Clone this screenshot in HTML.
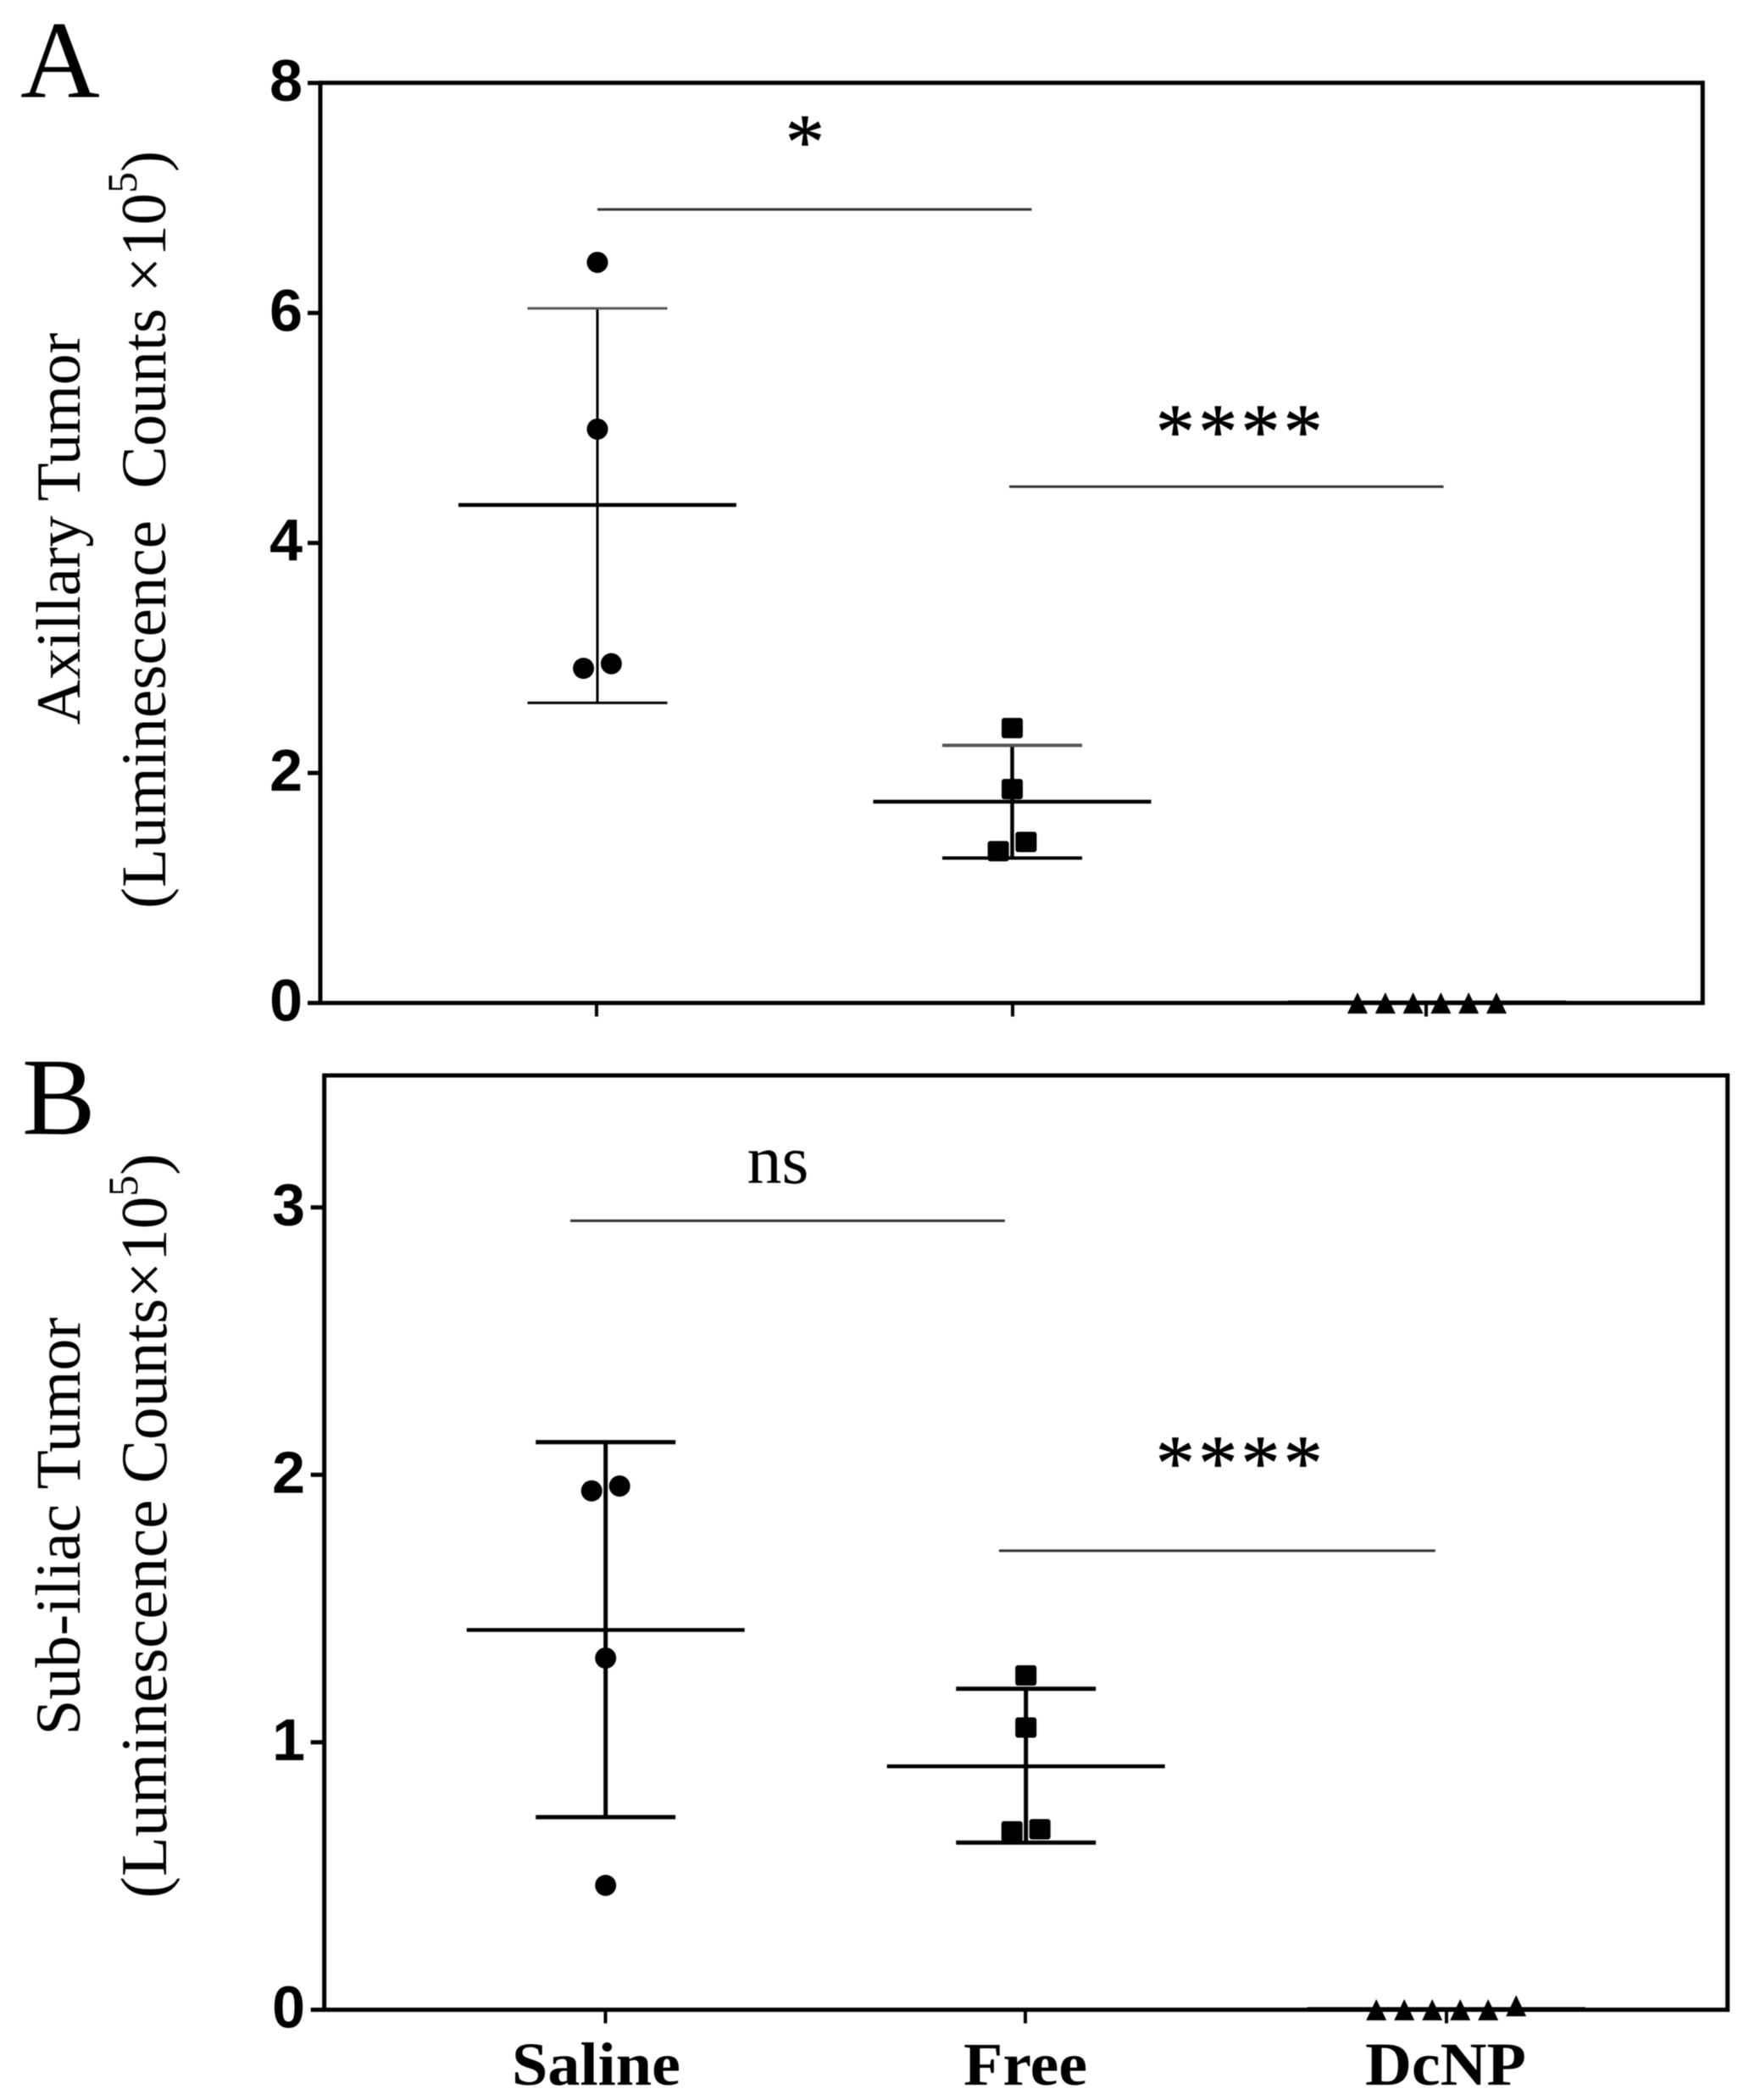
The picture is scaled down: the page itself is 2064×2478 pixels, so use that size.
<!DOCTYPE html>
<html lang="en">
<head>
<meta charset="utf-8">
<title>Axillary and sub-iliac tumor luminescence</title>
<style>
html,body{margin:0;padding:0;background:#fff;}
svg{display:block;filter:blur(0.5px);}
text{white-space:pre;}
.serif{font-family:"Liberation Serif",serif;fill:#000;}
.sans{font-family:"Liberation Sans",sans-serif;font-weight:700;fill:#000;}
</style>
</head>
<body>
<svg id="chart" xmlns="http://www.w3.org/2000/svg" width="2064" height="2478" viewBox="0 0 2064 2478">
  <rect x="0" y="0" width="2064" height="2478" fill="#fff"/>

  <text class="serif" x="24" y="114.5" font-size="130">A</text>
  <text class="serif" x="26" y="1338" font-size="130">B</text>

  <text class="serif" font-size="74" text-anchor="middle" transform="translate(94 624) rotate(-90)">Axillary Tumor</text>
  <text class="serif" font-size="75" text-anchor="middle" transform="translate(195 625) rotate(-90)">(Luminescence  Counts ×10<tspan font-size="50" dy="-34">5</tspan><tspan dy="34">)</tspan></text>

  <text class="serif" font-size="75.5" text-anchor="middle" transform="translate(94 1801) rotate(-90)">Sub-iliac Tumor</text>
  <text class="serif" font-size="77" text-anchor="middle" transform="translate(196 1800.5) rotate(-90)">(Luminescence Counts×10<tspan font-size="50" dy="-34">5</tspan><tspan dy="34">)</tspan></text>

  <g id="panel-a"></g>
  <g id="panel-b"></g>
</svg>

<script>
// Shared categories
var categories = ['Saline', 'Free', 'DcNP'];

// Beeswarm slots (in marker-widths from the category centre)
var aSalineSlots = [0, 0, -0.5, 0.5];
var bSalineSlots = [-0.5, 0.5, 0, 0];
var freeSlots = [0, 0, -0.5, 0.5];
var dcnpSlots = [-2.5, -1.5, -0.5, 0.5, 1.5, 2.5];

// Panel A values (×10^5)
var aTicks = [0, 2, 4, 6, 8];
var aSaline = [6.44, 4.99, 2.91, 2.95];
var aFree = [2.39, 1.86, 1.32, 1.40];
var aDcNP = [0, 0, 0, 0, 0, 0];
var aMeans = [4.33, 1.75, 0.01];
var aUpper = [6.04, 2.24, 0.01];
var aLower = [2.61, 1.26, 0.01];
var aSigLabels = ['*', '****'];
var aSigHeights = [6.9, 4.49];
var aSigFrom = [0, 0.993];
var aSigTo = [1.047, 2.04];

// Panel B values (×10^5)
var bTicks = [0, 1, 2, 3];
var bSaline = [1.94, 1.958, 1.315, 0.465];
var bFree = [1.25, 1.055, 0.667, 0.675];
var bDcNP = [0, 0, 0, 0, 0, 0.015];
var bMeans = [1.42, 0.91, 0.005];
var bUpper = [2.122, 1.20, 0.005];
var bLower = [0.72, 0.625, 0.005];
var bSigLabels = ['ns', '****'];
var bSigHeights = [2.95, 1.716];
var bSigFrom = [-0.084, 0.936];
var bSigTo = [0.95, 1.974];

var NS = 'http://www.w3.org/2000/svg';

function mk(parent, tag, name) {
  var el = document.createElementNS(NS, tag);
  
  
  parent.appendChild(el);
  return el;
}
function seg(parent, name, x1, y1, x2, y2, w, color) {
  var el = mk(parent, 'line', name);
  el.setAttribute('x1', x1);
  el.setAttribute('y1', y1);
  el.setAttribute('x2', x2);
  el.setAttribute('y2', y2);
  el.setAttribute('stroke', color || '#000');
  el.setAttribute('stroke-width', w);
  return el;
}
function label(parent, name, cls, x, y, size, str, anchor) {
  var el = mk(parent, 'text', name);
  el.setAttribute('class', cls);
  el.setAttribute('x', x);
  el.setAttribute('y', y);
  el.setAttribute('font-size', size);
  el.setAttribute('text-anchor', anchor || 'middle');
  el.textContent = str;
  return el;
}
function circle(parent, name, cx, cy) {
  var el = mk(parent, 'circle', name);
  el.setAttribute('cx', cx);
  el.setAttribute('cy', cy);
  el.setAttribute('r', 12.5);
  el.setAttribute('fill', '#000');
}
function square(parent, name, cx, cy) {
  var el = mk(parent, 'rect', name);
  el.setAttribute('x', cx - 12.5);
  el.setAttribute('y', cy - 12);
  el.setAttribute('width', 25);
  el.setAttribute('height', 24);
  el.setAttribute('rx', 3);
  el.setAttribute('fill', '#000');
}
function triangle(parent, name, cx, cy) {
  var el = mk(parent, 'polygon', name);
  var pts = [cx, cy - 12.5, cx + 12, cy + 12.5, cx - 12, cy + 12.5];
  el.setAttribute('points', pts.join(' '));
  el.setAttribute('fill', '#000');
}

function drawPanel(cfg) {
  var g = document.getElementById(cfg.id);
  var key = cfg.key;
  function X(c) { return cfg.x0 + c * cfg.step; }
  function Y(v) { return cfg.y0 - v * cfg.unit; }
  var top = cfg.top, bottom = Y(0), left = cfg.left, right = cfg.right;

  // Frame
  seg(g, key + '-y-axis', left, top - 2.5, left, bottom + 2.5, 5);
  seg(g, key + '-x-axis', left, bottom, right, bottom, 5);
  seg(g, key + '-frame-top', left, top, right, top, 5);
  seg(g, key + '-frame-right', right, top - 2.5, right, bottom + 2.5, 5);

  // Y ticks and labels
  cfg.ticks.forEach(function (t) {
    seg(g, key + '-y-tick-' + t, cfg.tickLeft, Y(t), left, Y(t), 5);
    label(g, key + '-y-tick-label-' + t, 'sans', cfg.tickLabelX, Y(t) + 21, 70, String(t), 'end');
  });

  // X ticks and labels
  categories.forEach(function (c, i) {
    seg(g, key + '-x-tick-' + c.toLowerCase(), cfg.xTickAt[i], bottom, cfg.xTickAt[i], bottom + 16, 4);
    if (cfg.showXLabels) {
      var t = label(g, key + '-x-label-' + c.toLowerCase(), 'serif', cfg.xLabelAt[i], 2460, 72, c);
      t.setAttribute('font-weight', '700');
      t.setAttribute('textLength', cfg.xLabelLen[i]);
      t.setAttribute('lengthAdjust', 'spacingAndGlyphs');
    }
  });

  // Mean and error bars
  categories.forEach(function (c, i) {
    var n = key + '-' + c.toLowerCase();
    seg(g, n + '-error-bar', X(i), Y(cfg.upper[i]), X(i), Y(cfg.lower[i]), cfg.errW[i]);
    seg(g, n + '-error-cap-upper', X(i) - 82.5, Y(cfg.upper[i]), X(i) + 82.5, Y(cfg.upper[i]), cfg.capW[i], cfg.capColor);
    seg(g, n + '-error-cap-lower', X(i) - 82.5, Y(cfg.lower[i]), X(i) + 82.5, Y(cfg.lower[i]), cfg.capW[i]);
    seg(g, n + '-mean-line', X(i) - 164, Y(cfg.means[i]), X(i) + 164, Y(cfg.means[i]), cfg.meanW[i]);
  });

  // Points
  cfg.saline.forEach(function (v, i) {
    circle(g, key + '-saline-point-' + (i + 1), X(0) + cfg.salineSlots[i] * cfg.pitch, Y(v));
  });
  cfg.free.forEach(function (v, i) {
    square(g, key + '-free-point-' + (i + 1), X(1) + freeSlots[i] * cfg.pitch, Y(v));
  });
  cfg.dcnp.forEach(function (v, i) {
    triangle(g, key + '-dcnp-point-' + (i + 1), X(2) + dcnpSlots[i] * cfg.pitch, Y(v));
  });

  // Significance bars
  cfg.sigLabels.forEach(function (s, i) {
    var yy = Y(cfg.sigHeights[i]);
    var nm = key + '-significance-' + (i + 1);
    seg(g, nm + '-bar', X(cfg.sigFrom[i]), yy, X(cfg.sigTo[i]), yy, 3, '#333');
    if (s === 'ns') {
      label(g, nm + '-label', 'serif', cfg.sigTextX[i], cfg.sigTextY[i], 82, s);
    } else {
      var t = label(g, nm + '-label', 'serif', cfg.sigTextX[i], cfg.sigTextY[i], 92, s);
      t.setAttribute('letter-spacing', '4.3');
      t.setAttribute('stroke', '#000');
      t.setAttribute('stroke-width', '0.8');
    }
  });
}

drawPanel({
  id: 'panel-a', key: 'panel-a',
  x0: 705, step: 489.5, y0: 1183.5, unit: 135.7,
  top: 97.7, left: 378, right: 2009.3, tickLeft: 363, tickLabelX: 357,
  ticks: aTicks, saline: aSaline, free: aFree, dcnp: aDcNP, salineSlots: aSalineSlots,
  means: aMeans, upper: aUpper, lower: aLower,
  errW: [3, 4.5, 1], capW: [3, 4, 1], meanW: [4.5, 4.5, 3], capColor: '#555', pitch: 32.8,
  xTickAt: [704, 1195, 1683],
  showXLabels: false,
  sigLabels: aSigLabels, sigHeights: aSigHeights, sigFrom: aSigFrom, sigTo: aSigTo,
  sigTextX: [952, 1464.5], sigTextY: [198, 540]
});

drawPanel({
  id: 'panel-b', key: 'panel-b',
  x0: 714.7, step: 496, y0: 2371.5, unit: 315.6,
  top: 1269, left: 382.7, right: 2038.7, tickLeft: 366.7, tickLabelX: 360,
  ticks: bTicks, saline: bSaline, free: bFree, dcnp: bDcNP, salineSlots: bSalineSlots,
  means: bMeans, upper: bUpper, lower: bLower,
  errW: [5, 5, 1], capW: [5, 5, 1], meanW: [4.5, 4.5, 3], capColor: '#000', pitch: 33,
  xTickAt: [714.5, 1210, 1707],
  showXLabels: true, xLabelAt: [703.5, 1210, 1706], xLabelLen: [199, 146, 190],
  sigLabels: bSigLabels, sigHeights: bSigHeights, sigFrom: bSigFrom, sigTo: bSigTo,
  sigTextX: [918, 1464.5], sigTextY: [1396, 1757]
});
</script>
</body>
</html>
